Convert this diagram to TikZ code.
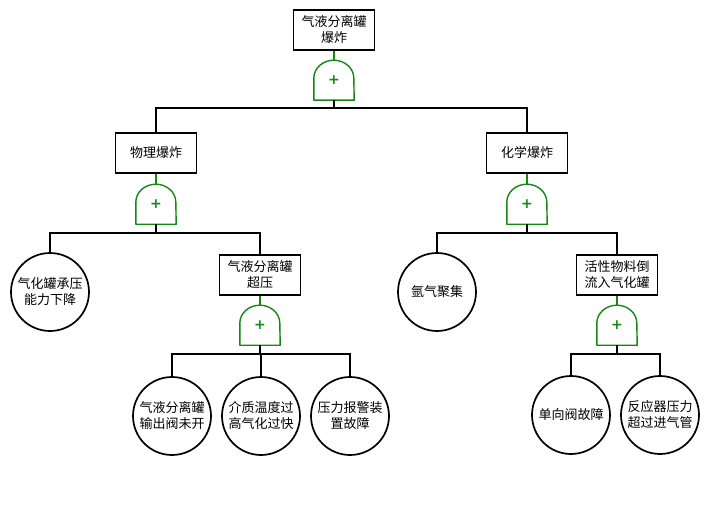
\documentclass[tikz,border=0pt]{standalone}
\usepackage{fontspec}
\newfontfamily\cjk{Noto Sans CJK SC}
\newfontfamily\plusfont{DejaVu Sans}
\usepackage{tikz}
\usetikzlibrary{positioning}
\definecolor{gategreen}{RGB}{20,135,20}

\tikzset{
  event/.style={draw, line width=1.7pt, minimum width=81pt, minimum height=40pt,
    inner sep=1pt, align=center, font=\cjk\fontsize{13}{16}\selectfont},
  basic/.style={draw, circle, line width=1.7pt, minimum size=78pt, inner sep=0pt,
    align=center, font=\cjk\fontsize{13}{16}\selectfont},
  orgate/.style={minimum width=40pt, minimum height=40pt, inner sep=0pt,
    text=gategreen, font=\plusfont\bfseries\fontsize{14}{14}\selectfont},
  conn/.style={line width=1.6pt, black},
  gline/.style={line width=1.4pt, gategreen}
}

\begin{document}
\begin{tikzpicture}[x=1pt, y=1pt]
      \useasboundingbox (0,0) rectangle (712,515);

      % Top event
      \node[event] (top) at (334,485) {气液分离罐\\爆炸};
      \node[orgate] (g0) at (334,435) {+};

      % Second level
      \node[event] (phys) at (156,362) {物理爆炸};
      \node[orgate] (g1) at (156,311) {+};
      \node[event] (chem) at (527,362) {化学爆炸};
      \node[orgate] (g2) at (527,311) {+};

      % Third level
      \node[basic] (cap) at (50,223) {气化罐承压\\能力下降};
      \node[event] (over) at (260,240) {气液分离罐\\超压};
      \node[orgate] (g3) at (260,190) {+};
      \node[basic] (argon) at (437,223) {氩气聚集};
      \node[event] (back) at (617,240) {活性物料倒\\流入气化罐};
      \node[orgate] (g4) at (617,190) {+};

      % Basic events at the bottom
      \node[basic] (valve) at (172,99) {气液分离罐\\输出阀未开};
      \node[basic] (temp) at (261,99) {介质温度过\\高气化过快};
      \node[basic] (alarm) at (350,99) {压力报警装\\置故障};
      \node[basic] (check) at (571,100) {单向阀故障};
      \node[basic] (react) at (660,100) {反应器压力\\超过进气管};

      % OR gate outlines
      \foreach \g in {g0,g1,g2,g3,g4} {
        \draw[gline, line join=round] (\g.south west) -- ++(0,22)
          arc[start angle=180, end angle=0, x radius=20, y radius=18]
          -- (\g.south east) -- cycle;
      }

      % Events into gates
      \draw[gline] (top.south) -- (g0.north);
      \draw[gline] (phys.south) -- (g1.north);
      \draw[gline] (chem.south) -- (g2.north);
      \draw[gline] (over.south) -- (g3.north);
      \draw[gline] (back.south) -- (g4.north);

      % Gates to inputs
      \draw[conn] (g0.south) -- ++(0,-8) -| (phys.north);
      \draw[conn] (g0.south) -- ++(0,-8) -| (chem.north);
      \draw[conn] (g1.south) -- ++(0,-9) -| (cap.north);
      \draw[conn] (g1.south) -- ++(0,-9) -| (over.north);
      \draw[conn] (g2.south) -- ++(0,-9) -| (argon.north);
      \draw[conn] (g2.south) -- ++(0,-9) -| (back.north);
      \draw[conn] (g3.south) -- ++(0,-9) -| (valve.north);
      \draw[conn] (g3.south) -- ++(0,-9) -| (temp.north);
      \draw[conn] (g3.south) -- ++(0,-9) -| (alarm.north);
      \draw[conn] (g4.south) -- ++(0,-9) -| (check.north);
      \draw[conn] (g4.south) -- ++(0,-9) -| (react.north);
    \end{tikzpicture}
\end{document}
